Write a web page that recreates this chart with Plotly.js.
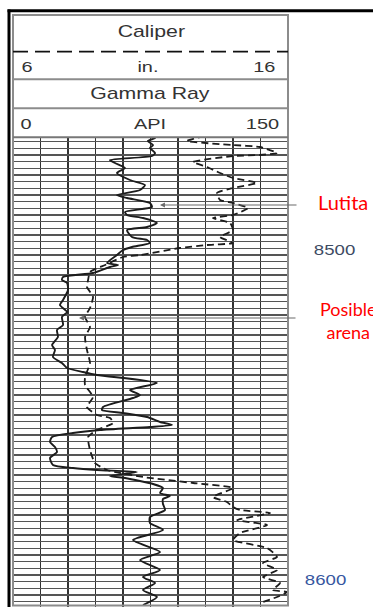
<!DOCTYPE html>
<html><head><meta charset="utf-8">
<script src="https://cdn.plot.ly/plotly-3.0.1.min.js"></script>
<style>html,body{margin:0;padding:0;background:#fff;} #chart{width:373px;height:607px;}</style>
</head><body><div id="chart"></div>
<script>
const depthGR = [8466.3,8466.9,8467.8,8469.0,8469.9,8471.4,8472.3,8473.5,8474.4,8475.9,8477.4,8479.5,8481.0,8482.5,8484.0,8484.9,8486.4,8487.6,8489.1,8490.0,8490.9,8492.4,8493.6,8494.5,8496.6,8497.5,8498.4,8499.6,8500.5,8502.0,8504.4,8505.0,8505.6,8507.4,8508.6,8509.5,8510.4,8512.5,8515.5,8517.0,8519.1,8520.6,8523.0,8524.5,8526.6,8529.0,8530.5,8532.6,8534.4,8535.9,8537.1,8538.0,8540.4,8542.5,8544.0,8544.9,8547.6,8548.5,8549.4,8550.6,8552.1,8553.0,8553.6,8554.5,8555.4,8556.6,8558.1,8559.6,8561.1,8562.9,8565.0,8565.9,8566.5,8567.1,8568.3,8568.9,8569.8,8570.7,8571.9,8573.4,8574.3,8575.2,8576.7,8578.5,8580.6,8582.4,8584.5,8587.5,8591.1,8593.5,8596.5,8598.6,8600.4,8602.5,8604.6,8607.0];
const gammaRay = [73.1,77.5,73.6,76.4,74.7,77.5,75.8,52.9,55.6,61.1,56.7,63.8,72.0,69.3,56.7,62.2,74.7,75.8,61.1,62.2,70.9,78.5,73.1,62.2,64.9,73.1,74.7,64.9,60.0,56.7,51.3,57.3,52.9,43.6,27.3,26.7,29.5,30.0,27.3,25.6,29.5,26.7,27.3,24.0,24.5,21.3,22.9,21.8,26.7,29.5,38.2,45.8,78.5,63.8,69.3,65.5,49.1,48.5,60.0,73.1,80.2,86.7,74.7,47.5,32.7,21.3,20.2,22.9,24.0,20.2,21.8,32.7,45.8,67.6,52.9,61.1,69.3,76.4,81.8,80.2,85.6,81.8,81.8,82.9,74.7,74.7,81.8,65.5,80.2,69.3,80.2,70.9,77.5,70.9,78.5,70.9];
const depthCal = [8466.3,8467.8,8469.0,8469.6,8471.4,8472.0,8472.3,8474.1,8475.6,8477.4,8478.9,8480.4,8481.9,8483.4,8485.5,8486.4,8487.9,8490.0,8490.9,8492.4,8494.5,8496.6,8498.4,8499.0,8499.9,8502.0,8502.6,8505.0,8507.1,8509.5,8511.6,8514.6,8517.9,8520.6,8523.6,8526.6,8530.5,8534.4,8538.6,8541.0,8544.6,8547.6,8550.0,8550.9,8552.4,8554.5,8556.6,8560.5,8564.4,8566.5,8568.6,8570.4,8571.9,8574.6,8576.1,8577.6,8578.5,8579.4,8581.5,8583.0,8585.4,8587.5,8589.9,8592.6,8594.4,8596.5,8598.6,8600.4,8602.5,8603.1,8604.6,8606.4];
const caliper = [12.98,12.33,14.0,14.98,15.6,14.98,14.0,12.55,13.05,13.53,14.0,14.87,14.0,13.42,13.53,14.0,14.55,14.0,13.27,13.89,14.0,13.53,14.0,13.05,12.07,10.62,10.0,9.35,8.8,8.73,8.69,8.91,8.8,8.62,8.8,8.62,8.69,8.8,8.62,8.62,8.91,8.69,9.05,9.53,9.64,9.05,8.73,8.8,8.98,9.42,10.73,12.55,14.0,13.27,13.78,14.0,14.25,15.35,14.15,15.24,14.25,14.0,15.24,15.6,15.09,15.6,15.09,15.71,15.45,15.96,15.6,14.98];
const curveNames = ['Caliper', 'Gamma Ray'];
const caliperScale = ['6', 'in.', '16'];
const gammaScale = ['0', 'API', '150'];
const depthMarks = ['8500', '8600'];
const zoneLabels = ['Lutita', 'Posible<br>arena'];

// ---------- layout helpers ----------
const W = 373, H = 607;
const px = x => x / W;
const py = y => 1 - y / H;

const traces = [
  {x: gammaRay, y: depthGR, xaxis: 'x', yaxis: 'y', type: 'scatter', mode: 'lines',
   line: {color: '#1c1c1c', width: 1.9, shape: 'spline', smoothing: 0.6}, hoverinfo: 'skip'},
  {x: caliper, y: depthCal, xaxis: 'x2', yaxis: 'y', type: 'scatter', mode: 'lines',
   line: {color: '#1c1c1c', width: 1.8, dash: '7px,4px', shape: 'spline', smoothing: 0.5}, hoverinfo: 'skip'}
];

const hdrFont = {family: 'Liberation Sans, Arial, sans-serif', size: 16, color: '#333'};
const sclFont = {family: 'Liberation Sans, Arial, sans-serif', size: 15, color: '#333'};
const redFont = {family: 'Lato, sans-serif', size: 20, color: '#ff0000'};
const redFont2 = {family: 'Lato, sans-serif', size: 18, color: '#ff0000'};

const annotations = [];
const stretch = new Set();
function txt(text, x, y, font, doStretch) {
  if (doStretch) stretch.add(annotations.length);
  annotations.push({text: text, xref: 'paper', yref: 'paper', x: px(x), y: py(y),
    xanchor: 'center', yanchor: 'middle', showarrow: false, font: font});
}
txt(curveNames[0], 151.5, 31, hdrFont, true);
txt(caliperScale[0], 26.7, 66.7, sclFont, true);
txt(caliperScale[1], 148.3, 66.7, sclFont, true);
txt(caliperScale[2], 264.5, 66.7, sclFont, true);
txt(curveNames[1], 150.3, 93.7, hdrFont, true);
txt(gammaScale[0], 25.8, 123.3, sclFont, true);
txt(gammaScale[1], 150, 123.3, sclFont, true);
txt(gammaScale[2], 262.8, 123.3, sclFont, true);
// depth labels, placed on the depth axis
stretch.add(annotations.length);
annotations.push({text: depthMarks[0], xref: 'paper', yref: 'y', x: px(334), y: +depthMarks[0], yshift: -1.5,
  xanchor: 'center', yanchor: 'middle', showarrow: false,
  font: {family: 'Liberation Sans, Arial, sans-serif', size: 14, color: '#3d4b63'}});
stretch.add(annotations.length);
annotations.push({text: depthMarks[1], xref: 'paper', yref: 'y', x: px(325), y: +depthMarks[1], yshift: 1.5,
  xanchor: 'center', yanchor: 'middle', showarrow: false,
  font: {family: 'Liberation Sans, Arial, sans-serif', size: 14, color: '#3657a0'}});
// zone labels
txt(zoneLabels[0], 342.5, 202.5, redFont, false);
txt(zoneLabels[1], 348.5, 320, redFont2, false);
// pointer arrows
annotations.push({text: '', xref: 'paper', yref: 'paper', x: px(160), y: py(205), ax: 138, ay: 0,
  showarrow: true, arrowhead: 2, arrowsize: 0.9, arrowwidth: 1.1, arrowcolor: '#6a6a6a'});
annotations.push({text: '', xref: 'paper', yref: 'paper', x: px(79), y: py(318), ax: 218, ay: 0,
  showarrow: true, arrowhead: 2, arrowsize: 0.9, arrowwidth: 1.1, arrowcolor: '#6a6a6a'});

const grey = '#8c8c8c';
const shapes = [
  // outer frame (thick black)
  {type: 'line', xref: 'paper', yref: 'paper', x0: px(9), x1: px(9), y0: py(9.5), y1: 0, line: {color: '#000', width: 3}},
  {type: 'line', xref: 'paper', yref: 'paper', x0: px(7.5), x1: 1, y0: py(10.8), y1: py(10.8), line: {color: '#000', width: 3}},
  // inner box
  {type: 'rect', xref: 'paper', yref: 'paper', x0: px(13), x1: px(288), y0: py(15), y1: py(605.5), line: {color: grey, width: 2}},
  // header separators
  {type: 'line', xref: 'paper', yref: 'paper', x0: px(13), x1: px(288), y0: py(51.7), y1: py(51.7), line: {color: '#111', width: 1.8, dash: '15px,7px'}},
  {type: 'line', xref: 'paper', yref: 'paper', x0: px(13), x1: px(288), y0: py(79.3), y1: py(79.3), line: {color: grey, width: 2}},
  {type: 'line', xref: 'paper', yref: 'paper', x0: px(13), x1: px(288), y0: py(108.3), y1: py(108.3), line: {color: grey, width: 2}},
  {type: 'line', xref: 'paper', yref: 'paper', x0: px(13), x1: px(288), y0: py(137.3), y1: py(137.3), line: {color: '#777', width: 2}}
];

const layout = {
  width: W, height: H, margin: {l: 0, r: 0, t: 0, b: 0},
  paper_bgcolor: '#fff', plot_bgcolor: '#fff', showlegend: false,
  xaxis: {domain: [px(13), px(288)], range: [0, 150], tick0: 0, dtick: 15, showgrid: true,
          gridcolor: '#333', gridwidth: 1.6, showticklabels: false, ticks: '', zeroline: false, showline: false},
  xaxis2: {overlaying: 'x', anchor: 'y', range: [6, 16], showgrid: false, showticklabels: false,
           ticks: '', zeroline: false, showline: false},
  yaxis: {domain: [0, py(137)], range: [8607.6, 8466.6], tick0: 8466, dtick: 2, showgrid: true,
          gridcolor: '#555', gridwidth: 1.1, showticklabels: false, ticks: '', zeroline: false, showline: false},
  shapes: shapes,
  annotations: annotations
};

Plotly.newPlot('chart', traces, layout, {staticPlot: true, displayModeBar: false}).then(gd => {
  gd.querySelectorAll('g.annotation').forEach(g => {
    const i = +g.getAttribute('data-index');
    if (stretch.has(i)) {
      const t = g.querySelector('text');
      if (t) {
        t.style.transformBox = 'fill-box';
        t.style.transformOrigin = 'center';
        t.style.transform = 'scaleX(1.33)';
      }
    }
  });
});
</script>
</body></html>
